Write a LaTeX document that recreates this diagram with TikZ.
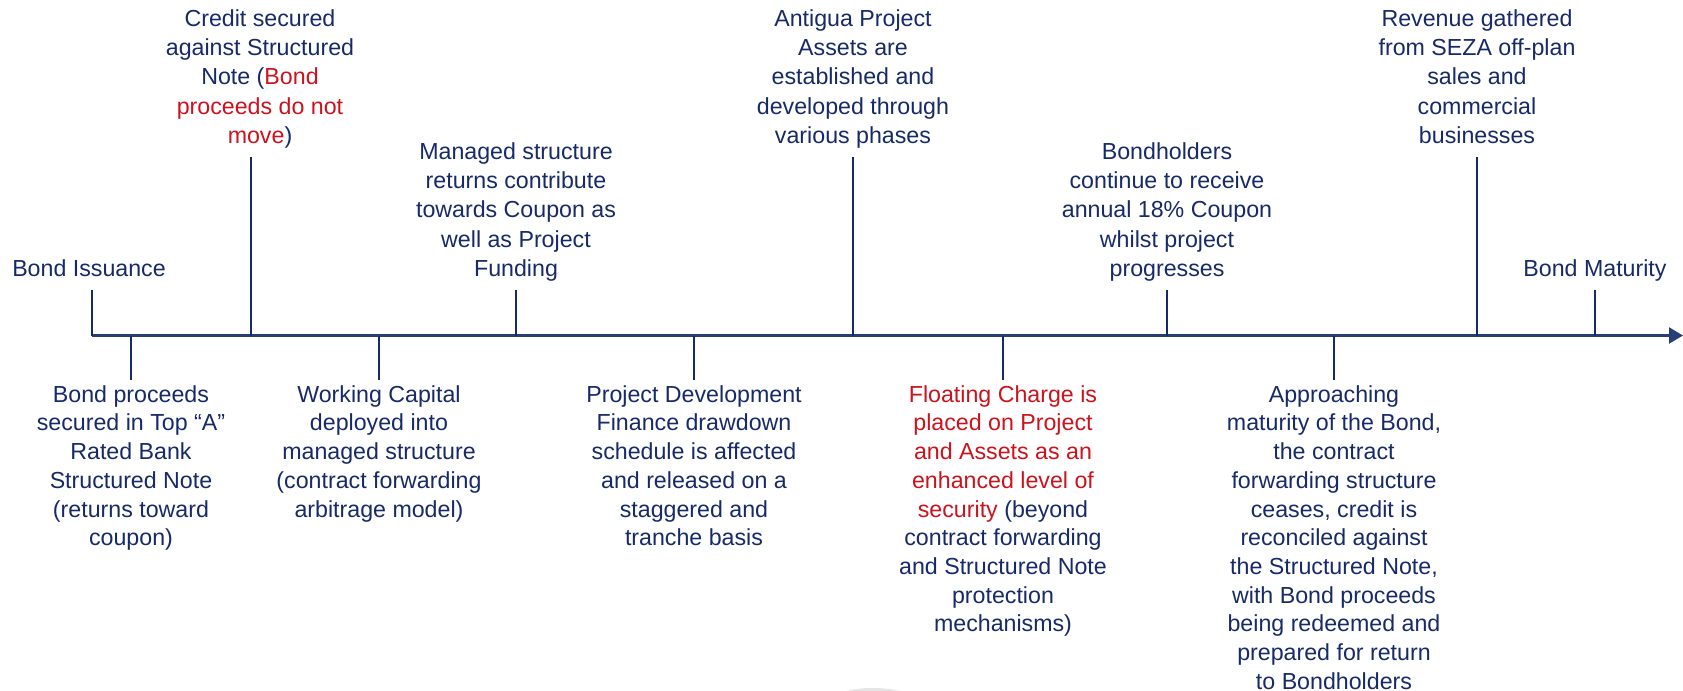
\documentclass[tikz,border=0pt]{standalone}
\usepackage{fontspec}
\setmainfont{Liberation Sans}
\usetikzlibrary{arrows.meta,positioning}
\definecolor{navy}{RGB}{22,42,104}
\definecolor{axisblue}{RGB}{40,62,120}
\definecolor{bondred}{RGB}{204,18,28}
\newcommand{\rd}[1]{\textcolor{bondred}{#1}}
\begin{document}
\begin{tikzpicture}
      [x=0.5pt,y=-0.5pt,
      tick/.style={navy,line width=1.4pt},
      axis/.style={axisblue,line width=1.1pt,-{Triangle[length=7pt,width=8pt]}},
      ev node/.style={align=center,inner sep=0pt,text=navy,
        font=\fontsize{11.6}{14.35}\selectfont,
        execute at begin node=\strut,execute at end node=\strut},
      up node/.style={ev node,font=\fontsize{11.6}{14.7}\selectfont}]
      \useasboundingbox (0,0) rectangle (1683,691);
      % points on the time line
      \coordinate (a1) at (92,335.5);
      \coordinate (a2) at (131,335.5);
      \coordinate (a3) at (251,335.5);
      \coordinate (a4) at (379,335.5);
      \coordinate (a5) at (516,335.5);
      \coordinate (a6) at (694,335.5);
      \coordinate (a7) at (853,335.5);
      \coordinate (a8) at (1003,335.5);
      \coordinate (a9) at (1167,335.5);
      \coordinate (a10) at (1334,335.5);
      \coordinate (a11) at (1477,335.5);
      \coordinate (a12) at (1595,335.5);
      \coordinate (tip) at (1683,335.5);
      % tick ends
      \coordinate (e1) at (92,290);
      \coordinate (e2) at (131,380);
      \coordinate (e3) at (251,157);
      \coordinate (e4) at (379,380);
      \coordinate (e5) at (516,290);
      \coordinate (e6) at (694,380);
      \coordinate (e7) at (853,157);
      \coordinate (e8) at (1003,380);
      \coordinate (e9) at (1167,290);
      \coordinate (e10) at (1334,380);
      \coordinate (e11) at (1477,157);
      \coordinate (e12) at (1595,290);
      \draw[axis] (a1) -- (tip);
      \draw[tick] (a1) -- (e1);
      \draw[tick] (a2) -- (e2);
      \draw[tick] (a3) -- (e3);
      \draw[tick] (a4) -- (e4);
      \draw[tick] (a5) -- (e5);
      \draw[tick] (a6) -- (e6);
      \draw[tick] (a7) -- (e7);
      \draw[tick] (a8) -- (e8);
      \draw[tick] (a9) -- (e9);
      \draw[tick] (a10) -- (e10);
      \draw[tick] (a11) -- (e11);
      \draw[tick] (a12) -- (e12);
      % events above the line
      \node[up node,above=2pt of e1,xshift=-1.5pt] (issue) {Bond Issuance};
      \node[up node,above=2pt of e3,xshift=4.5pt] (credit) {Credit secured\\against Structured\\Note (\rd{Bond}\\\rd{proceeds do not}\\\rd{move})};
      \node[up node,above=2pt of e5] (managed) {Managed structure\\returns contribute\\towards Coupon as\\well as Project\\Funding};
      \node[up node,above=2pt of e7] (antigua) {Antigua Project\\Assets are\\established and\\developed through\\various phases};
      \node[up node,above=2pt of e9] (holders) {Bondholders\\continue to receive\\annual 18\% Coupon\\whilst project\\progresses};
      \node[up node,above=2pt of e11] (revenue) {Revenue gathered\\from SEZA off-plan\\sales and\\commercial\\businesses};
      \node[up node,above=2pt of e12] (maturity) {Bond Maturity};
      % events below the line
      \node[ev node,below=2.5pt of e2] (proceeds) {Bond proceeds\\secured in Top “A”\\Rated Bank\\Structured Note\\(returns toward\\coupon)};
      \node[ev node,below=2.5pt of e4] (capital) {Working Capital\\deployed into\\managed structure\\(contract forwarding\\arbitrage model)};
      \node[ev node,below=2.5pt of e6] (finance) {Project Development\\Finance drawdown\\schedule is affected\\and released on a\\staggered and\\tranche basis};
      \node[ev node,below=2.5pt of e8] (floating) {\rd{Floating Charge is}\\\rd{placed on Project}\\\rd{and Assets as an}\\\rd{enhanced level of}\\\rd{security} (beyond\\contract forwarding\\and Structured Note\\protection\\mechanisms)};
      \node[ev node,below=2.5pt of e10] (approach) {Approaching\\maturity of the Bond,\\the contract\\forwarding structure\\ceases, credit is\\reconciled against\\the Structured Note,\\with Bond proceeds\\being redeemed and\\prepared for return\\to Bondholders};
      % faint mark at the bottom edge
      \begin{scope}
        \clip (0,0) rectangle (1683,691);
        \fill[black!10] (873,694) ellipse (30 and 6);
      \end{scope}
    \end{tikzpicture}
\end{document}
